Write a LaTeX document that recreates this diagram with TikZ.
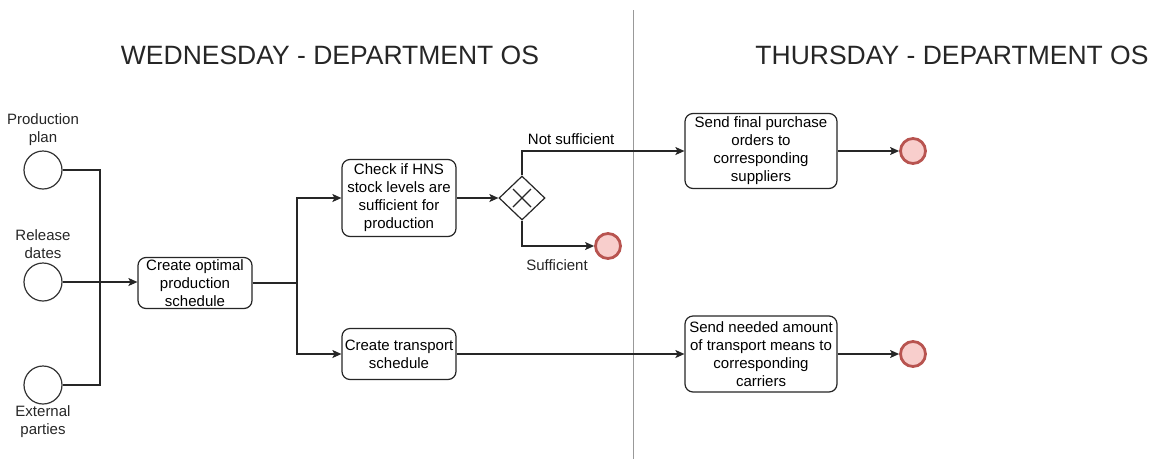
\documentclass[tikz,border=0pt]{standalone}
\usepackage{fontspec}
\setmainfont{Liberation Sans}
\usetikzlibrary{arrows.meta,shapes.geometric}
\begin{document}
\begin{tikzpicture}[x=1pt,y=-1pt,
  every node/.style={font=\fontsize{15}{18}\selectfont},
  flow/.style={line width=1.2pt,draw=black!85},
  arr/.style={flow,-{Stealth[length=9pt,width=8pt,inset=2pt]}},
  startev/.style={circle,draw=black!80,line width=1.2pt,fill=white,minimum size=38pt,inner sep=0pt},
  endev/.style={circle,draw=red!45!black!70!red,line width=2.8pt,fill=endfill,minimum size=25pt,inner sep=0pt},
  task/.style={rectangle,rounded corners=8pt,draw=black!85,line width=1.2pt,fill=white,
    align=center,inner sep=1pt},
  gateway/.style={diamond,draw=black!85,line width=1.2pt,fill=white,minimum width=46pt,
    minimum height=44pt,inner sep=0pt,aspect=1},
  lbl/.style={align=center,text=black!85},
  title/.style={font=\fontsize{26.5}{30}\selectfont,text=black!85}
]
\definecolor{endfill}{HTML}{F8CECC}
\definecolor{endline}{HTML}{B85450}
\tikzset{endev/.append style={draw=endline}}
\useasboundingbox (0,0) rectangle (1162,459);

% lane divider and titles
\coordinate (divtop) at (633,10);
\coordinate (divbot) at (633,459);
\draw[line width=1pt,draw=black!40] (divtop) -- (divbot);
\node[title] (wed) at (330,55) {WEDNESDAY - DEPARTMENT OS};
\node[title] (thu) at (952,55) {THURSDAY - DEPARTMENT OS};

% start events
\node[startev] (s1) at (43,170) {};
\node[startev] (s2) at (43,282) {};
\node[startev] (s3) at (43,385) {};
\node[lbl] (l1) at (43,130) {Production\\plan};
\node[lbl] (l2) at (43,244) {Release\\dates};
\node[lbl] (l3) at (43,422) {External\\parties};

% tasks
\node[task,minimum width=114pt,minimum height=51pt] (t1) at (195,283) {Create optimal\\production\\schedule};
\node[task,minimum width=114pt,minimum height=77pt] (t2) at (399,198) {Check if HNS\\stock levels are\\sufficient for\\production};
\node[task,minimum width=114pt,minimum height=51pt] (t3) at (399,354) {Create transport\\schedule};
\node[task,minimum width=152pt,minimum height=75pt] (t4) at (761,151) {Send final purchase\\orders to\\corresponding\\suppliers};
\node[task,minimum width=152pt,minimum height=76pt] (t5) at (761,354) {Send needed amount\\of transport means to\\corresponding\\carriers};

% exclusive gateway
\node[gateway] (gw) at (522,198) {};
\draw[line width=1.3pt,black!85] ([shift={(-9,-9)}]gw.center) -- ([shift={(9,9)}]gw.center)
  ([shift={(-9,9)}]gw.center) -- ([shift={(9,-9)}]gw.center);

% end events
\node[endev] (e1) at (608,246) {};
\node[endev] (e2) at (913,151) {};
\node[endev] (e3) at (913,354) {};

% merge of inputs
\coordinate (m) at (100,282);
\draw[flow] (s1.east) -| (m);
\draw[flow] (s3.east) -| (m);
\draw[arr] (s2.east) -- (t1.west |- s2.east);

% split after schedule
\coordinate (sp) at (297,283);
\draw[flow] (t1.east) -- (sp);
\draw[arr] (sp) |- (t2.west);
\draw[arr] (sp) |- (t3.west);

% decision
\draw[arr] (t2.east) -- (gw.west);
\draw[arr] (gw.north) |- (t4.west) node[pos=0.5,above=2pt,anchor=south west,xshift=2pt] (ns) {Not sufficient};
\draw[arr] (gw.south) |- (e1.west);
\node[lbl] (suf) at (557,265) {Sufficient};

% outputs
\draw[arr] (t3.east) -- (t5.west);
\draw[arr] (t4.east) -- (e2.west);
\draw[arr] (t5.east) -- (e3.west);
\end{tikzpicture}
\end{document}
